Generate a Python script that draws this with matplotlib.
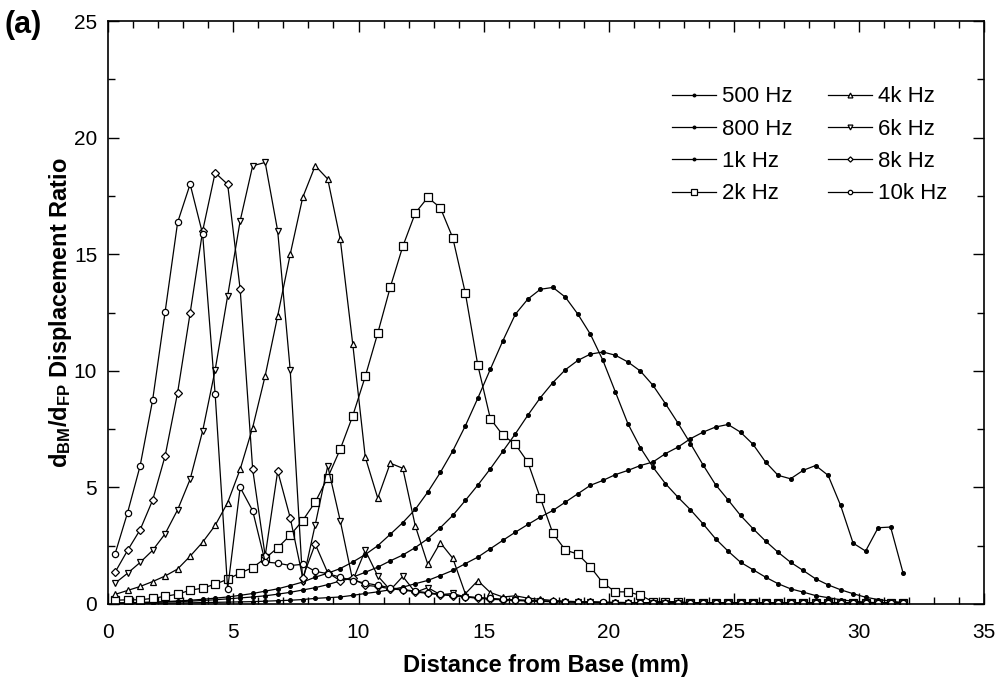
import numpy as np
import matplotlib
matplotlib.use("Agg")
import matplotlib.pyplot as plt
from matplotlib.ticker import MultipleLocator

plt.rcParams["font.family"] = ["Liberation Sans", "DejaVu Sans"]
plt.rcParams["mathtext.fontset"] = "custom"
plt.rcParams["mathtext.bf"] = "Liberation Sans:bold"
plt.rcParams["mathtext.rm"] = "Liberation Sans:bold"

# -----------------------------
# DATA
# -----------------------------

# sample positions along the cochlea, every 0.5 mm
x_mm = np.arange(64) * 0.5 + 0.27

f500 = [0.02, 0.02, 0.03, 0.03, 0.04, 0.04, 0.05, 0.06, 0.07, 0.08,
        0.09, 0.10, 0.12, 0.14, 0.16, 0.19, 0.24, 0.27, 0.30, 0.37,
        0.45, 0.52, 0.61, 0.72, 0.87, 1.01, 1.22, 1.44, 1.73, 2.01,
        2.37, 2.73, 3.08, 3.41, 3.73, 4.01, 4.37, 4.73, 5.09, 5.30,
        5.55, 5.73, 5.94, 6.09, 6.45, 6.73, 7.09, 7.37, 7.59, 7.70,
        7.37, 6.85, 6.09, 5.52, 5.37, 5.73, 5.94, 5.52, 4.23, 2.61,
        2.27, 3.27, 3.30, 1.32]

f800 = [0.04, 0.05, 0.06, 0.07, 0.09, 0.10, 0.12, 0.15, 0.18, 0.22,
        0.26, 0.30, 0.35, 0.42, 0.50, 0.60, 0.70, 0.83, 0.99, 1.15,
        1.36, 1.58, 1.85, 2.10, 2.42, 2.80, 3.27, 3.80, 4.44, 5.10,
        5.80, 6.55, 7.30, 8.10, 8.85, 9.50, 10.05, 10.45, 10.72, 10.81,
        10.67, 10.38, 9.99, 9.38, 8.59, 7.76, 6.88, 5.97, 5.12, 4.47,
        3.80, 3.23, 2.70, 2.22, 1.79, 1.44, 1.08, 0.82, 0.61, 0.44,
        0.29, 0.19, 0.12, 0.06]

f1k = [0.04, 0.05, 0.06, 0.08, 0.10, 0.13, 0.16, 0.20, 0.25, 0.30,
       0.37, 0.45, 0.55, 0.65, 0.79, 0.94, 1.15, 1.32, 1.52, 1.80,
       2.12, 2.50, 2.99, 3.49, 4.06, 4.80, 5.64, 6.57, 7.64, 8.83,
       10.07, 11.29, 12.43, 13.08, 13.50, 13.58, 13.16, 12.43, 11.57, 10.45,
       9.09, 7.73, 6.70, 5.87, 5.16, 4.58, 4.04, 3.44, 2.80, 2.27,
       1.79, 1.47, 1.15, 0.87, 0.65, 0.51, 0.36, 0.27, 0.18, 0.12,
       0.08, 0.05, 0.04, 0.03]

f2k = [0.16, 0.18, 0.18, 0.24, 0.33, 0.42, 0.59, 0.68, 0.85, 1.06,
       1.33, 1.56, 1.96, 2.41, 2.95, 3.58, 4.37, 5.42, 6.64, 8.07,
       9.76, 11.62, 13.59, 15.34, 16.77, 17.44, 17.00, 15.70, 13.34, 10.24,
       7.95, 7.24, 6.85, 6.08, 4.54, 3.03, 2.31, 2.14, 1.59, 0.90,
       0.52, 0.52, 0.37, 0.10, 0.10, 0.10, 0.05, 0.05, 0.05, 0.05,
       0.05, 0.05, 0.05, 0.05, 0.05, 0.05, 0.05, 0.05, 0.05, 0.05,
       0.05, 0.05, 0.05, 0.05]

f4k = [0.41, 0.58, 0.75, 0.96, 1.20, 1.50, 2.05, 2.65, 3.37, 4.35,
       5.78, 7.57, 9.79, 12.36, 15.00, 17.44, 18.80, 18.23, 15.65, 11.15,
       6.30, 4.54, 6.04, 5.82, 3.35, 1.70, 2.63, 1.96, 0.44, 1.00,
       0.49, 0.30, 0.35, 0.25, 0.20, 0.15, 0.12, 0.10, 0.09, 0.08,
       0.07, 0.06, 0.06, 0.05, 0.05, 0.05, 0.04, 0.04, 0.04, 0.04,
       0.03, 0.03, 0.03, 0.03, 0.03, 0.03, 0.03, 0.03, 0.03, 0.03,
       0.03, 0.03, 0.03, 0.03]

f6k = [0.89, 1.32, 1.78, 2.30, 3.01, 4.04, 5.35, 7.42, 10.04, 13.22,
       16.44, 18.80, 18.94, 16.00, 10.04, 0.94, 3.40, 5.92, 3.57, 1.00,
       2.30, 1.20, 0.60, 1.18, 0.50, 0.70, 0.40, 0.45, 0.30, 0.25,
       0.20, 0.18, 0.15, 0.13, 0.11, 0.10, 0.09, 0.08, 0.07, 0.06,
       0.05, 0.05, 0.05, 0.04, 0.04, 0.04, 0.04, 0.03, 0.03, 0.03,
       0.03, 0.03, 0.03, 0.03, 0.03, 0.03, 0.03, 0.03, 0.03, 0.03,
       0.03, 0.03, 0.03, 0.03]

f8k = [1.36, 2.30, 3.18, 4.45, 6.35, 9.07, 12.48, 16.00, 18.50, 18.00,
       13.50, 5.78, 2.06, 5.70, 3.70, 1.13, 2.57, 1.34, 1.00, 1.10,
       0.80, 0.75, 0.65, 0.60, 0.52, 0.45, 0.40, 0.35, 0.30, 0.26,
       0.22, 0.19, 0.16, 0.14, 0.12, 0.10, 0.09, 0.08, 0.07, 0.06,
       0.05, 0.05, 0.05, 0.04, 0.04, 0.04, 0.04, 0.03, 0.03, 0.03,
       0.03, 0.03, 0.03, 0.03, 0.03, 0.03, 0.03, 0.03, 0.03, 0.03,
       0.03, 0.03, 0.03, 0.03]

f10k = [2.15, 3.92, 5.92, 8.74, 12.53, 16.37, 18.01, 15.87, 9.00, 0.65,
        5.00, 4.00, 1.80, 1.75, 1.65, 1.70, 1.40, 1.30, 1.15, 1.00,
        0.90, 0.80, 0.70, 0.62, 0.55, 0.48, 0.42, 0.37, 0.32, 0.28,
        0.24, 0.20, 0.18, 0.16, 0.14, 0.12, 0.10, 0.09, 0.08, 0.07,
        0.06, 0.06, 0.05, 0.05, 0.05, 0.04, 0.04, 0.04, 0.04, 0.03,
        0.03, 0.03, 0.03, 0.03, 0.03, 0.03, 0.03, 0.03, 0.03, 0.03,
        0.03, 0.03, 0.03, 0.03]

series = [
    ("500 Hz", f500, "."),
    ("800 Hz", f800, "."),
    ("1k Hz", f1k, "."),
    ("2k Hz", f2k, "s"),
    ("4k Hz", f4k, "^"),
    ("6k Hz", f6k, "v"),
    ("8k Hz", f8k, "D"),
    ("10k Hz", f10k, "o"),
]

# -----------------------------
# PLOT
# -----------------------------

fig = plt.figure(figsize=(10.03, 6.84), dpi=100)
ax = fig.add_axes([0.108, 0.117, 0.873, 0.852])

for label, y, mk in series:
    if mk == ".":
        ax.plot(x_mm, y, color="black", lw=0.9, marker="o", ms=2.6,
                mfc="black", mec="black", label=label)
    else:
        size = {"s": 5.5, "^": 5.0, "v": 5.0, "D": 3.8, "o": 4.5}[mk]
        ax.plot(x_mm, y, color="black", lw=0.9, marker=mk, ms=size,
                mfc="white", mec="black", mew=0.9, label=label)

ax.set_xlim(0, 35)
ax.set_ylim(0, 25)
ax.xaxis.set_major_locator(MultipleLocator(5))
ax.xaxis.set_minor_locator(MultipleLocator(1))
ax.yaxis.set_major_locator(MultipleLocator(5))
ax.yaxis.set_minor_locator(MultipleLocator(2.5))
ax.tick_params(which="both", direction="in", top=True, right=True,
               labelsize=15, width=1.0)
ax.tick_params(axis="x", pad=14)
ax.tick_params(axis="y", pad=8)
ax.tick_params(which="major", length=8)
ax.tick_params(which="minor", length=5)
for sp in ax.spines.values():
    sp.set_linewidth(1.2)

ax.set_xlabel("Distance from Base (mm)", fontsize=17, fontweight="bold",
              labelpad=8)
ax.set_ylabel(r"$\mathbf{d_{BM}/d_{FP}}$ Displacement Ratio", fontsize=17,
              fontweight="bold", labelpad=0)

fig.text(0.004, 0.952, "(a)", fontsize=22, fontweight="bold")

ax.legend(loc="upper left", bbox_to_anchor=(0.644, 0.888), ncol=2,
          frameon=False, fontsize=16, handlelength=1.95, handletextpad=0.3,
          columnspacing=1.6, labelspacing=0.51, markerscale=0.7,
          borderpad=0, borderaxespad=0)

fig.savefig("out.png", dpi=100)
